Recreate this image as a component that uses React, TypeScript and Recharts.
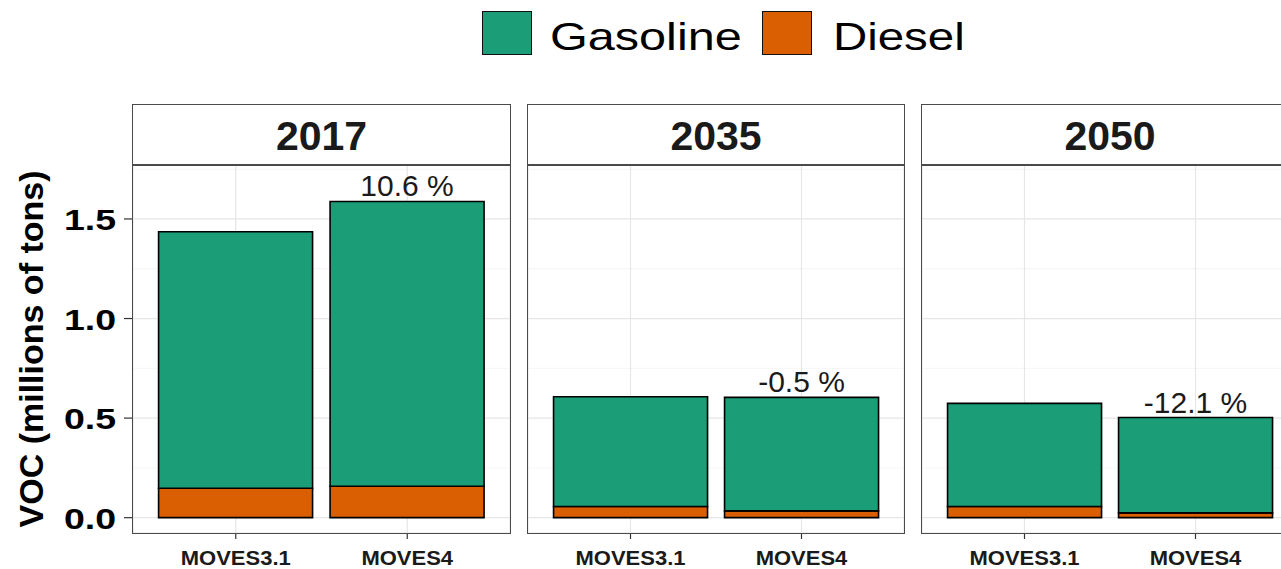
import React from 'react';
import { BarChart, Bar, XAxis, YAxis, CartesianGrid, LabelList, Legend } from 'recharts';

// ---- data ----
const years = ['2017', '2035', '2050'];
const models = ['MOVES3.1', 'MOVES4'];
const gasoline2017 = [1.288, 1.430];
const diesel2017 = [0.148, 0.158];
const gasoline2035 = [0.551, 0.570];
const diesel2035 = [0.056, 0.034];
const gasoline2050 = [0.518, 0.479];
const diesel2050 = [0.056, 0.024];
const changeLabels2017: (string | null)[] = [null, '10.6 %'];
const changeLabels2035: (string | null)[] = [null, '-0.5 %'];
const changeLabels2050: (string | null)[] = [null, '-12.1 %'];
const yTicks = [0, 0.5, 1, 1.5];
const yMinorTicks = [0.25, 0.75, 1.25, 1.75];
const yDomain: [number, number] = [-0.077, 1.771];
const seriesNames = ['Gasoline', 'Diesel'];
const seriesColors = ['#1B9E77', '#D95F02'];
const yTitle = 'VOC (millions of tons)';

const buildPanel = (g: number[], d: number[], l: (string | null)[]) =>
  models.map((m, i) => ({ model: m, Gasoline: g[i], Diesel: d[i], label: l[i] }));

const panels = [
  { year: years[0], data: buildPanel(gasoline2017, diesel2017, changeLabels2017) },
  { year: years[1], data: buildPanel(gasoline2035, diesel2035, changeLabels2035) },
  { year: years[2], data: buildPanel(gasoline2050, diesel2050, changeLabels2050) },
];

// ---- layout ----
const FONT = '"Liberation Sans", Arial, Helvetica, sans-serif';
const W = 1281;
const H = 569;
const PLOT_TOP = 165;
const PLOT_BOTTOM = 533;
const STRIP_TOP = 104;
const Y_AXIS_W = 133;
const panelLefts = [133, 528, 922];
const panelWidths = [377, 376, 376];
const BORDER = '#4a4a4a';

const XTick = (props: any) => {
  const { x, y, payload } = props;
  return (
    <g transform={`translate(${x},${y + 24})`}>
      <text
        textAnchor="middle"
        transform="scale(1.1,1)"
        fontSize={20}
        fontWeight="bold"
        fill="#1a1a1a"
        fontFamily={FONT}
      >
        {payload.value}
      </text>
    </g>
  );
};

const YTick = (props: any) => {
  const { x, y, payload } = props;
  return (
    <g transform={`translate(${x - 6},${y + 11}) scale(1.25,1)`}>
      <text textAnchor="end" fontSize={30} fontWeight="bold" fill="#000" fontFamily={FONT}>
        {Number(payload.value).toFixed(1)}
      </text>
    </g>
  );
};

const YTitle = () => (
  <text
    transform={`translate(43,${(PLOT_TOP + PLOT_BOTTOM) / 2}) rotate(-90)`}
    textAnchor="middle"
    fontSize={34}
    fontWeight="bold"
    fill="#000"
    fontFamily={FONT}
  >
    {yTitle}
  </text>
);

const LegendContent = () => {
  const squares = [482, 762];
  const texts = [550, 833];
  const scales = [1.23, 1.2];
  return (
    <div style={{ position: 'relative', width: W, height: 60 }}>
      {seriesNames.map((name, i) => (
        <React.Fragment key={name}>
          <div
            style={{
              position: 'absolute',
              left: squares[i],
              top: 11,
              width: 50,
              height: 44,
              boxSizing: 'border-box',
              background: seriesColors[i],
              border: '1.5px solid #111',
            }}
          />
          <div
            style={{
              position: 'absolute',
              left: texts[i],
              top: 16.5,
              fontFamily: FONT,
              fontSize: 39.5,
              lineHeight: 1,
              color: '#000',
              whiteSpace: 'nowrap',
              transform: `scaleX(${scales[i]})`,
              transformOrigin: 'left center',
            }}
          >
            {name}
          </div>
        </React.Fragment>
      ))}
    </div>
  );
};

const Panel = ({ idx }: { idx: number }) => {
  const p = panels[idx];
  const first = idx === 0;
  const chartLeft = first ? 0 : panelLefts[idx];
  const chartWidth = first ? Y_AXIS_W + panelWidths[idx] : panelWidths[idx];
  return (
    <div style={{ position: 'absolute', left: chartLeft, top: 0 }}>
      <BarChart
        width={chartWidth}
        height={H}
        data={p.data}
        margin={{ top: PLOT_TOP, right: 0, bottom: 0, left: 0 }}
        barCategoryGap="5%"
      >
        <CartesianGrid stroke="#F2F2F2" strokeWidth={0.8} vertical={false} horizontalValues={yMinorTicks} />
        <CartesianGrid stroke="#E6E6E6" strokeWidth={1.2} />
        <XAxis
          dataKey="model"
          type="category"
          height={H - PLOT_BOTTOM}
          padding={{ left: 17, right: 17 }}
          axisLine={false}
          tickSize={6}
          tickLine={{ stroke: '#333', strokeWidth: 1.2 }}
          tick={<XTick />}
          interval={0}
        />
        <YAxis
          type="number"
          domain={yDomain}
          ticks={yTicks}
          allowDataOverflow
          width={first ? Y_AXIS_W : 0}
          hide={!first}
          axisLine={false}
          tickSize={9}
          tickLine={{ stroke: '#333', strokeWidth: 1.2 }}
          tick={<YTick />}
          label={first ? () => <YTitle /> : undefined}
        />
        {first && (
          <Legend
            layout="horizontal"
            verticalAlign="middle"
            align="center"
            wrapperStyle={{ position: 'absolute', left: 0, top: 0, width: W, height: 60 }}
            content={() => <LegendContent />}
          />
        )}
        <Bar dataKey="Diesel" stackId="fuel" fill={seriesColors[1]} stroke="#000" strokeWidth={1.6} isAnimationActive={false} />
        <Bar dataKey="Gasoline" stackId="fuel" fill={seriesColors[0]} stroke="#000" strokeWidth={1.6} isAnimationActive={false}>
          <LabelList
            dataKey="label"
            position="top"
            offset={5}
            fontSize={30}
            fill="#1a1a1a"
            fontFamily={FONT}
          />
        </Bar>
      </BarChart>
    </div>
  );
};

const Frames = ({ idx }: { idx: number }) => {
  const left = panelLefts[idx];
  const width = panelWidths[idx];
  return (
    <>
      <div
        style={{
          position: 'absolute',
          left: left - 0.75,
          top: STRIP_TOP,
          width: width + 1.5,
          height: PLOT_TOP - STRIP_TOP + 0.75,
          boxSizing: 'border-box',
          border: `1.5px solid ${BORDER}`,
          background: '#fff',
          display: 'flex',
          alignItems: 'center',
          justifyContent: 'center',
          paddingTop: 3,
          fontFamily: FONT,
          fontWeight: 'bold',
          fontSize: 41,
          lineHeight: 1,
          color: '#1a1a1a',
        }}
      >
        {panels[idx].year}
      </div>
      <div
        style={{
          position: 'absolute',
          left: left - 0.75,
          top: PLOT_TOP - 0.75,
          width: width + 1.5,
          height: PLOT_BOTTOM - PLOT_TOP + 1.5,
          boxSizing: 'border-box',
          border: `1.5px solid ${BORDER}`,
          pointerEvents: 'none',
        }}
      />
    </>
  );
};

export default function App() {
  return (
    <div
      style={{
        position: 'absolute',
        left: 0,
        top: 0,
        width: W,
        height: H,
        overflow: 'hidden',
        background: '#fff',
        fontFamily: FONT,
      }}
    >
      {panels.map((_, i) => (
        <Panel key={i} idx={i} />
      ))}
      {panels.map((_, i) => (
        <Frames key={'f' + i} idx={i} />
      ))}
    </div>
  );
}
